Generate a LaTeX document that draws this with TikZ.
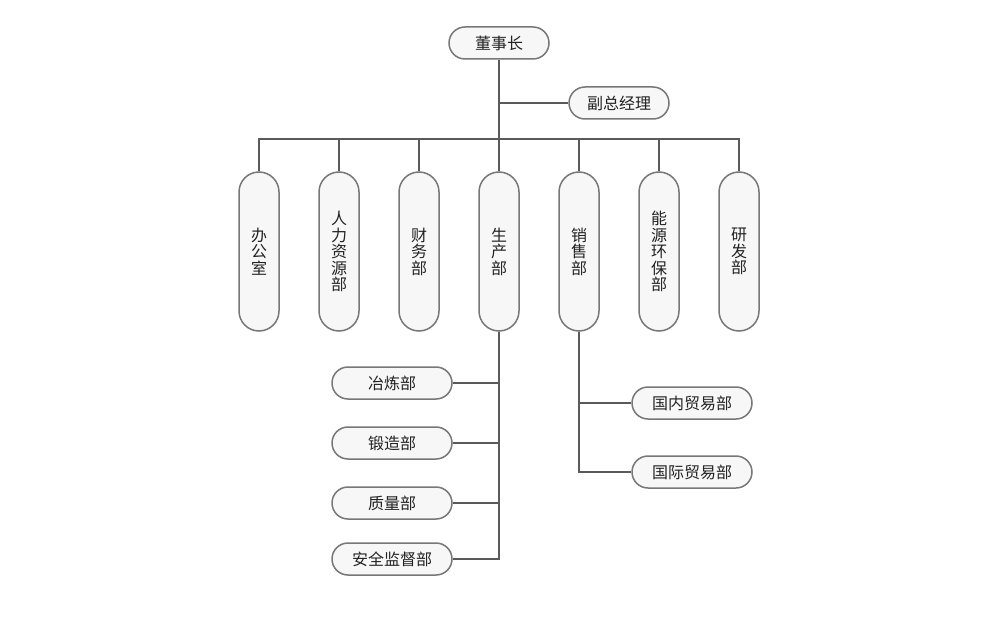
\documentclass[tikz,border=0pt]{standalone}
\usepackage{fontspec}
\newfontfamily\cjk{Noto Sans CJK SC}
\begin{document}
\begin{tikzpicture}[x=1pt,y=-1pt,
  box/.style={draw=boxline,fill=boxfill,line width=1.5pt,inner sep=0pt,
    font=\cjk\fontsize{16}{16.5}\selectfont,text=txt},
  hbox/.style={box,rounded corners=16pt,minimum height=32pt},
  vbox/.style={box,rounded corners=20pt,minimum width=40pt,minimum height=159pt,align=center},
  conn/.style={draw=linec,line width=1.5pt}]
\definecolor{boxline}{HTML}{777777}
\definecolor{boxfill}{HTML}{F7F7F7}
\definecolor{linec}{HTML}{5A5A5A}
\definecolor{txt}{HTML}{222222}
\useasboundingbox (0,0) rectangle (1000,620);
\node[hbox,minimum width=100pt] (ceo) at (499,43) {董事长};
\node[hbox,minimum width=100pt] (vp) at (619,103) {副总经理};
\node[vbox] (d1) at (259,251.5) {办\\公\\室};
\node[vbox] (d2) at (339,251.5) {人\\力\\资\\源\\部};
\node[vbox] (d3) at (419,251.5) {财\\务\\部};
\node[vbox] (d4) at (499,251.5) {生\\产\\部};
\node[vbox] (d5) at (579,251.5) {销\\售\\部};
\node[vbox] (d6) at (659,251.5) {能\\源\\环\\保\\部};
\node[vbox] (d7) at (739,251.5) {研\\发\\部};
\node[hbox,minimum width=120pt] (p1) at (392,383) {冶炼部};
\node[hbox,minimum width=120pt] (p2) at (392,443) {锻造部};
\node[hbox,minimum width=120pt] (p3) at (392,503) {质量部};
\node[hbox,minimum width=120pt] (p4) at (392,559) {安全监督部};
\node[hbox,minimum width=120pt] (s1) at (692,403) {国内贸易部};
\node[hbox,minimum width=120pt] (s2) at (692,472) {国际贸易部};
\coordinate (bus) at (499,139);
\coordinate (vpj) at (499,103);
\draw[conn] (ceo.south) -- (bus);
\draw[conn] (vpj) -- (vp.west);
\draw[conn] (d1.north) |- (bus) -| (d7.north);
\foreach \d in {d2,d3,d4,d5,d6} { \draw[conn] (\d.north) -- (\d.north |- bus); }
\draw[conn] (d4.south) -- (d4.south |- p4.east) -- (p4.east);
\foreach \p in {p1,p2,p3} { \draw[conn] (\p.east) -- (\p.east -| d4.south); }
\draw[conn] (d5.south) |- (s2.west);
\draw[conn] (s1.west) -- (s1.west -| d5.south);
\end{tikzpicture}
\end{document}
